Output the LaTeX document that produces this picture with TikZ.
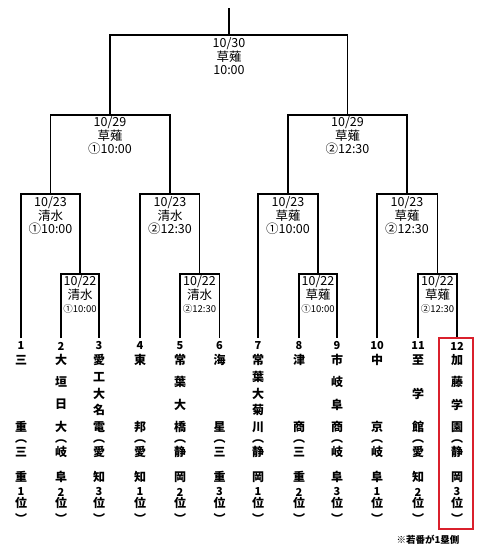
\documentclass[tikz,border=0pt]{standalone}
\usepackage{fontspec}
\setmainfont{Noto Sans CJK JP}
\usepackage{tikz}
\definecolor{boxred}{RGB}{218,32,44}

\begin{document}
\begin{tikzpicture}[x=1pt,y=-1pt,line width=1.3pt,
    lbl/.style={anchor=north,inner sep=0pt,align=center,font=\fontsize{12.5}{13.5}\selectfont},
    ch/.style={inner sep=0pt,font=\fontsize{12}{12}\selectfont\bfseries},
    num/.style={inner sep=0pt,font=\fontsize{11}{12}\selectfont\bfseries}]
    \useasboundingbox (0,0) rectangle (480,551);
    % match points, top edge centre of each box
    \coordinate (top) at (229,8);
    \coordinate (f) at (229,35);
    \coordinate (s1) at (110,115);   \coordinate (s2) at (347.5,115);
    \coordinate (q1) at (50.5,194);  \coordinate (q2) at (170,194);
    \coordinate (q3) at (288,194);   \coordinate (q4) at (407,194);
    \coordinate (m1) at (80,274);    \coordinate (m2) at (199.5,274);
    \coordinate (m3) at (318,274);   \coordinate (m4) at (437.5,274);
    % teams
    \foreach \x/\n/\nm/\k/\pa/\pb/\r in {
        21/1/{三,重}/2/三/重/1,
        61/2/{大,垣,日,大}/4/岐/阜/2,
        99/3/{愛,工,大,名,電}/5/愛/知/3,
        140/4/{東,邦}/2/愛/知/1,
        180/5/{常,葉,大,橋}/4/静/岡/2,
        219.5/6/{海,星}/2/三/重/3,
        258/7/{常,葉,大,菊,川}/5/静/岡/1,
        299/8/{津,商}/2/三/重/2,
        337/9/{市,岐,阜,商}/4/岐/阜/3,
        377/10/{中,京}/2/岐/阜/1,
        418/11/{至,学,館}/3/愛/知/2,
        457/12/{加,藤,学,園}/4/静/岡/3}
    {
        \coordinate (t\n) at (\x,338);
        \node[num] (n\n) at (\x,346) {\n};
        \foreach \c [count=\i] in \nm
            \node[ch] (nm\n-\i) at (\x,{360+(\i-1)*67/(\k-1)}) {\c};
        \node[ch] (lp\n) at (\x,442) {︵};
        \node[ch] (pa\n) at (\x,452) {\pa};
        \node[ch] (pb\n) at (\x,477) {\pb};
        \node[num] (rk\n) at (\x,492) {\r};
        \node[ch] (wi\n) at (\x,503) {位};
        \node[ch] (rp\n) at (\x,518) {︶};
    }
    % bracket
    \draw (t2) |- (m1) -| (t3);
    \draw (t5) |- (m2) -| (t6);
    \draw (t8) |- (m3) -| (t9);
    \draw (t11) |- (m4) -| (t12);
    \draw (t1) |- (q1) -| (m1);
    \draw (t4) |- (q2) -| (m2);
    \draw (t7) |- (q3) -| (m3);
    \draw (t10) |- (q4) -| (m4);
    \draw (q1) |- (s1) -| (q2);
    \draw (q3) |- (s2) -| (q4);
    \draw (s1) |- (f) -| (s2);
    \draw (f) -- (top);
    % schedule
    \node[lbl] (fl) at (229,37) {10/30\\草薙\\10:00};
    \node[lbl] (s1l) at (110,116) {10/29\\草薙\\①10:00};
    \node[lbl] (s2l) at (347.5,116) {10/29\\草薙\\②12:30};
    \node[lbl] (q1l) at (50.5,196) {10/23\\清水\\①10:00};
    \node[lbl] (q2l) at (170,196) {10/23\\清水\\②12:30};
    \node[lbl] (q3l) at (288,196) {10/23\\草薙\\①10:00};
    \node[lbl] (q4l) at (407,196) {10/23\\草薙\\②12:30};
    \node[lbl] (m1l) at (80,275) {10/22\\清水\\{\fontsize{9.5}{10}\selectfont ①10:00}};
    \node[lbl] (m2l) at (199.5,275) {10/22\\清水\\{\fontsize{9.5}{10}\selectfont ②12:30}};
    \node[lbl] (m3l) at (318,275) {10/22\\草薙\\{\fontsize{9.5}{10}\selectfont ①10:00}};
    \node[lbl] (m4l) at (437.5,275) {10/22\\草薙\\{\fontsize{9.5}{10}\selectfont ②12:30}};
    % host mark
    \draw[boxred,line width=2.6pt] (439,338) rectangle (473,529);
    \node[font=\fontsize{9.5}{10}\selectfont\bfseries] (note) at (428,540) {※若番が1塁側};
\end{tikzpicture}
\end{document}
